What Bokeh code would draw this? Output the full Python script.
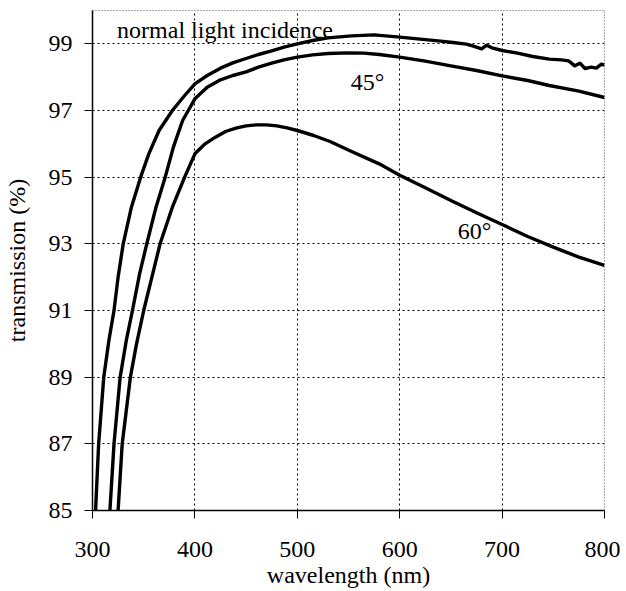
from bokeh.plotting import figure
from bokeh.models import FixedTicker, Range1d
from bokeh.core.properties import value
from bokeh.embed import file_html
from bokeh.resources import INLINE

# normal light incidence
wl_normal = [303, 306, 311, 316, 321, 325, 330, 338, 347, 355, 365, 378, 390, 400, 412, 425,
             437, 450, 462, 475, 487, 500, 515, 530, 553, 575, 600, 620, 640, 652, 665,
             672, 680, 685, 690, 700, 715, 730, 746, 758, 765, 771, 776, 781, 787, 792, 797, 800]
tr_normal = [85.0, 87.0, 89.0, 90.1, 91.0, 92.0, 93.0, 94.1, 95.0, 95.7, 96.4, 97.0, 97.45, 97.8, 98.05, 98.27,
             98.43, 98.56, 98.68, 98.79, 98.9, 99.0, 99.1, 99.18, 99.24, 99.27, 99.2, 99.14, 99.08, 99.04, 98.99,
             98.93, 98.85, 98.96, 98.88, 98.8, 98.72, 98.62, 98.54, 98.52, 98.49, 98.34, 98.42, 98.26, 98.3, 98.27, 98.39, 98.36]

# 45 degrees
wl_45 = [317, 321, 327, 333, 339, 346, 353, 362, 371, 379, 388, 400, 412, 425, 437, 450, 462,
         475, 487, 500, 515, 530, 550, 565, 580, 600, 625, 650, 675, 700, 725, 746, 775, 800]
tr_45 = [85.0, 87.0, 89.0, 90.1, 91.0, 92.1, 93.0, 94.1, 95.0, 95.9, 96.7, 97.35, 97.7, 97.92, 98.05, 98.16, 98.3,
         98.42, 98.52, 98.6, 98.67, 98.71, 98.73, 98.72, 98.68, 98.6, 98.48, 98.34, 98.2, 98.04, 97.9, 97.75, 97.58, 97.39]

# 60 degrees
wl_60 = [325, 329, 333, 337, 343, 350, 358, 366, 378, 390, 400, 410, 420, 430, 440, 450, 460,
         470, 480, 490, 500, 516, 532, 553, 580, 600, 625, 650, 675, 700, 725, 750, 775, 800]
tr_60 = [85.0, 87.0, 88.0, 89.0, 90.0, 91.0, 92.0, 93.0, 94.1, 95.0, 95.7, 96.0, 96.2, 96.37, 96.47, 96.54, 96.57,
         96.57, 96.54, 96.48, 96.4, 96.25, 96.07, 95.77, 95.4, 95.06, 94.68, 94.3, 93.93, 93.58, 93.22, 92.9, 92.6, 92.35]

x_ticks = [300, 400, 500, 600, 700, 800]
y_ticks = [85, 87, 89, 91, 93, 95, 97, 99]

label_text = ["normal light incidence", "45°", "60°"]
label_x = [324, 568.5, 673]
label_y = [99.42, 97.86, 93.38]

SERIF = "Liberation Serif, Times New Roman, serif"

W, H = 620, 590
p = figure(width=W, height=H, output_backend="svg", toolbar_location=None,
           x_range=Range1d(300, 800), y_range=Range1d(85, 100),
           min_border_left=92, min_border_right=W - 604, min_border_top=10, min_border_bottom=H - 510,
           x_axis_label="wavelength (nm)", y_axis_label="transmission (%)")

p.background_fill_color = "white"
p.border_fill_color = "white"
p.outline_line_color = "#555555"
p.outline_line_dash = "1 2"
p.outline_line_width = 1

for ax in (p.xaxis[0], p.yaxis[0]):
    ax.axis_line_color = "black"
    ax.axis_line_width = 1.5
    ax.major_tick_line_color = "black"
    ax.major_tick_in = 0
    ax.minor_tick_line_color = None
    ax.major_label_text_font = SERIF
    ax.major_label_text_font_size = "24px"
    ax.major_label_text_color = "black"
    ax.axis_label_text_font = SERIF
    ax.axis_label_text_font_size = "24px"
    ax.axis_label_text_font_style = "normal"
    ax.axis_label_text_color = "black"

p.xaxis.ticker = FixedTicker(ticks=x_ticks)
p.yaxis.ticker = FixedTicker(ticks=y_ticks)
p.xaxis.major_tick_out = 8
p.yaxis.major_tick_out = 8
p.xaxis.major_label_standoff = 23
p.yaxis.major_label_standoff = 12
p.xaxis.axis_label_standoff = 2
p.yaxis.axis_label_standoff = 16

p.xgrid.ticker = FixedTicker(ticks=x_ticks)
p.ygrid.ticker = FixedTicker(ticks=y_ticks)
for g in (p.xgrid[0], p.ygrid[0]):
    g.grid_line_color = "black"
    g.grid_line_dash = "2 3"
    g.grid_line_width = 1

for wl, tr in ((wl_normal, tr_normal), (wl_45, tr_45), (wl_60, tr_60)):
    p.line(wl, tr, line_color="black", line_width=3.4, line_join="round")

p.text(x=label_x, y=label_y, text=label_text, text_font=value(SERIF),
       text_font_size="24px", text_color="black",
       text_align=["left", "center", "center"], text_baseline="middle")

open("out.html", "w").write(file_html(p, INLINE))
